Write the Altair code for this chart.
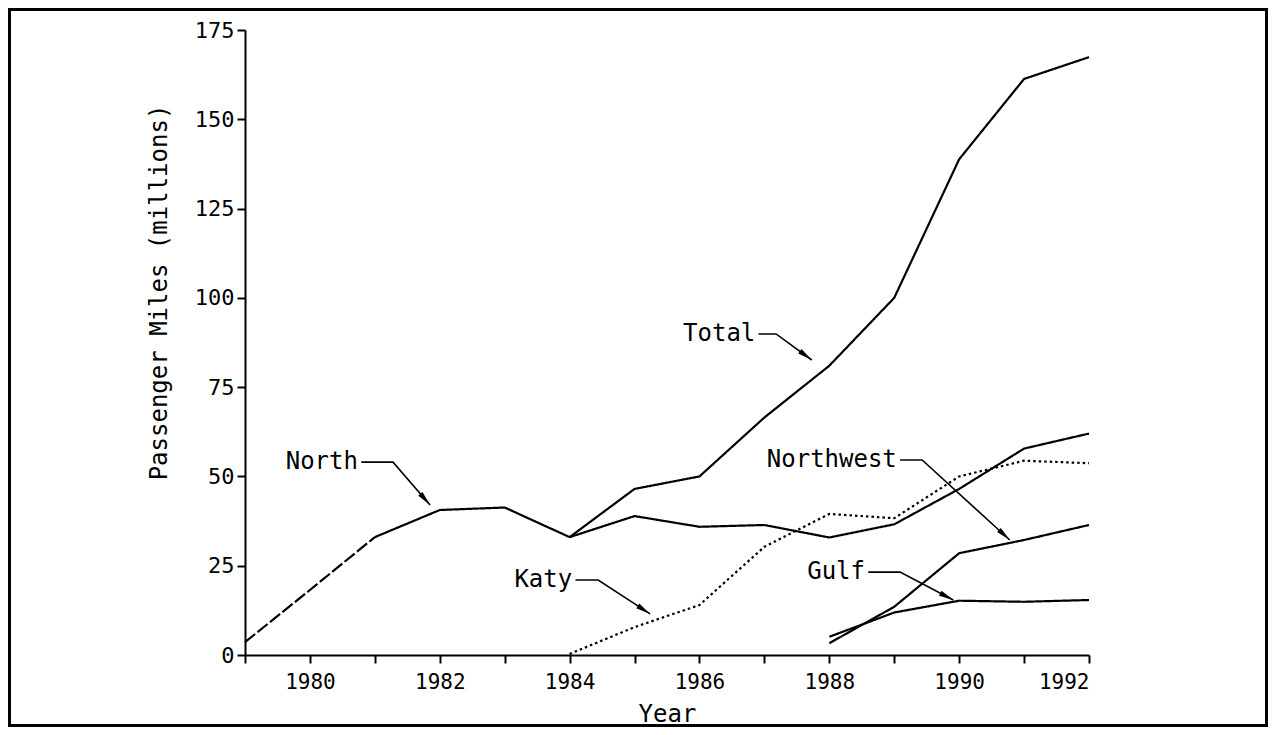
import math
import altair as alt
import pandas as pd

# ---------------- data ----------------
north_years = list(range(1979, 1993))
north_vals = [3.6, 18.2, 33.0, 40.6, 41.3, 33.0, 38.9, 35.9, 36.4, 32.9, 36.6, 46.5, 57.8, 62.0]

total_years = list(range(1984, 1993))
total_vals = [33.0, 46.5, 50.0, 66.5, 81.0, 100.0, 138.8, 161.3, 167.4]

katy_years = list(range(1984, 1993))
katy_vals = [0.3, 7.8, 14.0, 30.3, 39.5, 38.3, 50.0, 54.4, 53.7]

nw_years = list(range(1988, 1993))
nw_vals = [3.3, 13.5, 28.5, 32.2, 36.4]

gulf_years = list(range(1988, 1993))
gulf_vals = [5.1, 11.9, 15.2, 14.9, 15.4]

# annotation labels (text right end), leader elbow and arrow tip, in data units
label_names = ["Total", "North", "Katy", "Northwest", "Gulf"]
label_year = [1986.86, 1980.74, 1984.04, 1989.04, 1988.55]
label_val = [89.9, 54.0, 21.0, 54.6, 23.2]
elbow_year = [1987.18, 1981.28, 1984.44, 1989.43, 1989.09]
tip_year = [1987.73, 1981.85, 1985.24, 1990.78, 1989.91]
tip_val = [82.6, 42.0, 11.5, 32.2, 15.4]

x_ticks = list(range(1979, 1993))
y_ticks = [0, 25, 50, 75, 100, 125, 150, 175]

# ---------------- layout ----------------
W, H = 844, 625
PAD = {"left": 237, "top": 22, "right": 179, "bottom": 72}
PX_YEAR = W / 13.0
PX_VAL = H / 175.0
FONT = "DejaVu Sans Mono"

# ---------------- tables ----------------
rows = []
for y, v in zip(north_years, north_vals):
    if y <= 1981:
        rows.append({"series": "North early", "year": y, "value": v, "dash": "dash"})
    if y >= 1981:
        rows.append({"series": "North", "year": y, "value": v, "dash": "solid"})
for y, v in zip(total_years, total_vals):
    rows.append({"series": "Total", "year": y, "value": v, "dash": "solid"})
for y, v in zip(katy_years, katy_vals):
    rows.append({"series": "Katy", "year": y, "value": v, "dash": "dot"})
for y, v in zip(nw_years, nw_vals):
    rows.append({"series": "Northwest", "year": y, "value": v, "dash": "solid"})
for y, v in zip(gulf_years, gulf_vals):
    rows.append({"series": "Gulf", "year": y, "value": v, "dash": "solid"})
lines_df = pd.DataFrame(rows)

lead_rows, tip_rows, text_rows = [], [], []
for n, ly, lv, ey, ty, tv in zip(label_names, label_year, label_val, elbow_year, tip_year, tip_val):
    lead_rows.append({"name": n, "o": 0, "year": ly + 0.05, "value": lv})
    lead_rows.append({"name": n, "o": 1, "year": ey, "value": lv})
    lead_rows.append({"name": n, "o": 2, "year": ty, "value": tv})
    dx = (ty - ey) * PX_YEAR
    dy = -(tv - lv) * PX_VAL
    ang = math.degrees(math.atan2(dx, -dy)) % 360
    tip_rows.append({"name": n, "year": ty, "value": tv, "angle": ang})
    text_rows.append({"name": n, "year": ly, "value": lv})
lead_df = pd.DataFrame(lead_rows)
tip_df = pd.DataFrame(tip_rows)
text_df = pd.DataFrame(text_rows)

# ---------------- encodings ----------------
xs = alt.Scale(domain=[1979, 1992], nice=False, zero=False)
ys = alt.Scale(domain=[0, 175], nice=False)
X = alt.X("year:Q", scale=xs, axis=alt.Axis(
    values=x_ticks, format="d",
    labelExpr="datum.value % 2 == 0 ? datum.label : ''",
    title="Year", tickSize=8, labelPadding=8, titlePadding=10,
    labelFontSize=21, titleFontSize=24))
Y = alt.Y("value:Q", scale=ys, axis=alt.Axis(
    values=y_ticks, title="Passenger Miles (millions)", tickSize=8,
    labelPadding=3, labelFontSize=22, titleFontSize=24,
    titleX=-74, titleY=262))

dash_scale = alt.Scale(domain=["solid", "dash", "dot"], range=[[1, 0], [13, 3], [2.5, 3]])
width_scale = alt.Scale(domain=["solid", "dash", "dot"], range=[2.2, 2.2, 2.6])

lines = alt.Chart(lines_df).mark_line(color="black").encode(
    x=X, y=Y, detail="series:N",
    strokeDash=alt.StrokeDash("dash:N", scale=dash_scale, legend=None),
    strokeWidth=alt.StrokeWidth("dash:N", scale=width_scale, legend=None),
)

leaders = alt.Chart(lead_df).mark_line(color="black", strokeWidth=1.6).encode(
    x=X, y=Y, detail="name:N", order="o:Q"
)

arrow_path = "M0,0L0.32,1.7L-0.32,1.7Z"
heads = alt.Chart(tip_df).mark_point(
    shape=arrow_path, filled=True, color="black", size=300, opacity=1
).encode(x=X, y=Y, angle=alt.Angle("angle:Q", scale=None))

texts = alt.Chart(text_df).mark_text(
    align="right", baseline="middle", font=FONT, fontSize=24, color="black"
).encode(x=X, y=Y, text="name:N")

frame = alt.Chart(pd.DataFrame({"k": [0]})).mark_rect(
    fill="transparent", stroke="black", strokeWidth=3
).encode(
    x=alt.value(-PAD["left"] + 1.5), x2=alt.value(W + PAD["right"] - 1.5),
    y=alt.value(-PAD["top"] + 1.5), y2=alt.value(H + PAD["bottom"] - 1.5),
)

chart = alt.layer(lines, leaders, heads, texts, frame).properties(
    width=W, height=H,
    autosize=alt.AutoSizeParams(type="none"),
    padding=PAD,
    background="white",
).configure_view(strokeWidth=0).configure_axis(
    grid=False, domainColor="black", domainWidth=2, tickColor="black", tickWidth=2,
    labelColor="black", titleColor="black", labelFont=FONT, titleFont=FONT,
    titleFontWeight="normal", labelFontWeight="normal",
)

chart.save("out.html", embed_options={"renderer": "svg", "actions": False})
